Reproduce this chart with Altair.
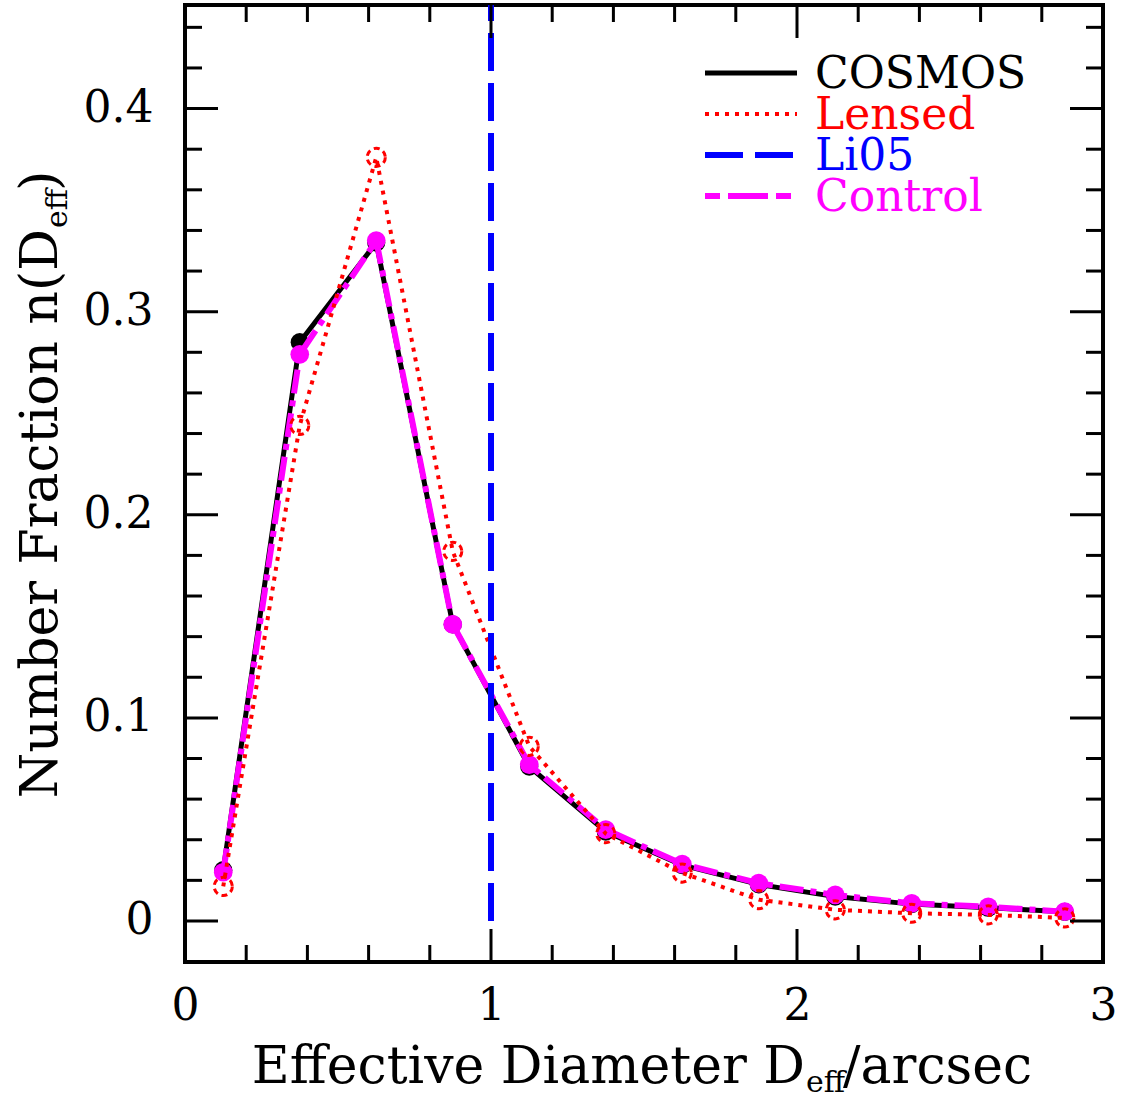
import altair as alt
import pandas as pd

# ---- data ----
x_centers = [0.125, 0.375, 0.625, 0.875, 1.125, 1.375, 1.625, 1.875, 2.125, 2.375, 2.625, 2.875]
cosmos = [0.025, 0.285, 0.334, 0.146, 0.076, 0.044, 0.0275, 0.018, 0.012, 0.0083, 0.0065, 0.0045]
control = [0.024, 0.279, 0.335, 0.146, 0.077, 0.045, 0.028, 0.0186, 0.0128, 0.0087, 0.007, 0.0046]
lensed = [0.017, 0.244, 0.376, 0.182, 0.086, 0.043, 0.0236, 0.0105, 0.0055, 0.0038, 0.003, 0.0015]
li05_x = [1.0]

x_major = [0, 1, 2, 3]
x_minor = [0.2, 0.4, 0.6, 0.8, 1.2, 1.4, 1.6, 1.8, 2.2, 2.4, 2.6, 2.8]
y_major = [0.0, 0.1, 0.2, 0.3, 0.4]
y_minor = [0.02, 0.04, 0.06, 0.08, 0.12, 0.14, 0.16, 0.18, 0.22, 0.24, 0.26, 0.28,
           0.32, 0.34, 0.36, 0.38, 0.42, 0.44]

legend_labels = ["COSMOS", "Lensed", "Li05", "Control"]
legend_colors = ["#000000", "#ff0000", "#0000ff", "#ff00ff"]

W, H = 918, 957
FONT = "DejaVu Serif"
FS = 44
TFS = 52
LFS = 44

xs = alt.Scale(domain=[0, 3], nice=False, zero=False)
ys = alt.Scale(domain=[-0.0202, 0.451], nice=False, zero=False)
XAX = alt.Axis(values=x_major, labelFont=FONT, labelFontSize=FS, labelColor="black",
               ticks=False, domain=False, grid=False, labelPadding=22, title="",
               labelFlush=False, labelOverlap=False, format="d")
YAX = alt.Axis(values=y_major, labelFont=FONT, labelFontSize=FS, labelColor="black",
               ticks=False, domain=False, grid=False, labelPadding=32, title="",
               labelFlush=False, labelOverlap=False,
               labelExpr="datum.value == 0 ? '0' : format(datum.value, '.1f')")

df = pd.DataFrame({"x": x_centers, "cosmos": cosmos, "control": control, "lensed": lensed})
base = alt.Chart(df)

def X(f):
    return alt.X(f, scale=xs, axis=XAX)

def Y(f):
    return alt.Y(f, scale=ys, axis=YAX)

cos_line = base.mark_line(color="black", strokeWidth=5).encode(x=X("x:Q"), y=Y("cosmos:Q"))
cos_pts = base.mark_point(filled=True, color="black", size=330, opacity=1).encode(
    x=X("x:Q"), y=Y("cosmos:Q"))
con_line = base.mark_line(color="#ff00ff", strokeWidth=6, strokeDash=[24, 7, 6, 7]).encode(
    x=X("x:Q"), y=Y("control:Q"))
con_pts = base.mark_point(filled=True, color="#ff00ff", size=350, opacity=1).encode(
    x=X("x:Q"), y=Y("control:Q"))
len_line = base.mark_line(color="#ff0000", strokeWidth=4, strokeDash=[4, 6]).encode(
    x=X("x:Q"), y=Y("lensed:Q"))
len_pts = base.mark_point(filled=False, color="#ff0000", size=330, strokeWidth=3,
                          strokeDash=[6, 4], opacity=1).encode(
    x=X("x:Q"), y=Y("lensed:Q"))

li_df = pd.DataFrame({"x": li05_x, "y0": [0.0], "y1": [0.451]})
li_rule = alt.Chart(li_df).mark_rule(color="#0000ff", strokeWidth=6, strokeDash=[38, 12]).encode(
    x=X("x:Q"), y=Y("y0:Q"), y2="y1:Q")

# ---- inward ticks on all four sides ----
def xticks(vals, length):
    c = alt.Chart(pd.DataFrame({"v": vals}))
    bot = c.mark_rule(color="black", strokeWidth=3).encode(
        x=X("v:Q"), y=alt.value(H), y2=alt.value(H - length))
    top = c.mark_rule(color="black", strokeWidth=3).encode(
        x=X("v:Q"), y=alt.value(0), y2=alt.value(length))
    return [bot, top]

def yticks(vals, length):
    c = alt.Chart(pd.DataFrame({"v": vals}))
    left = c.mark_rule(color="black", strokeWidth=3).encode(
        y=Y("v:Q"), x=alt.value(0), x2=alt.value(length))
    right = c.mark_rule(color="black", strokeWidth=3).encode(
        y=Y("v:Q"), x=alt.value(W), x2=alt.value(W - length))
    return [left, right]

ticks = xticks(x_major, 33) + xticks(x_minor, 17) + yticks(y_major, 33) + yticks(y_minor, 17)

# ---- legend ----
one = pd.DataFrame({"a": [0]})
leg_dashes = [None, [4, 6], [38, 12], [15, 8, 40, 8]]
leg_widths = [5, 4, 6, 6]
legend_layers = []
for i, (lab, col) in enumerate(zip(legend_labels, legend_colors)):
    yy = 68 + 41 * i
    kw = dict(color=col, strokeWidth=leg_widths[i])
    if leg_dashes[i] is not None:
        kw["strokeDash"] = leg_dashes[i]
    legend_layers.append(alt.Chart(one).mark_rule(**kw).encode(
        x=alt.value(520), x2=alt.value(612), y=alt.value(yy)))
    legend_layers.append(alt.Chart(one).mark_text(
        text=lab, font=FONT, fontSize=LFS, color=col, align="left", baseline="middle").encode(
        x=alt.value(630), y=alt.value(yy + 2)))

# ---- axis titles with subscripts ----
XT_Y = 1078
XD = 620
xt1 = alt.Chart(one).mark_text(text="Effective Diameter D", font=FONT, fontSize=TFS,
                               align="right", baseline="alphabetic", color="black").encode(
    x=alt.value(XD), y=alt.value(XT_Y))
xt2 = alt.Chart(one).mark_text(text="eff", font=FONT, fontSize=30,
                               align="left", baseline="alphabetic", color="black").encode(
    x=alt.value(XD + 1), y=alt.value(XT_Y + 9))
xt3 = alt.Chart(one).mark_text(text="/arcsec", font=FONT, fontSize=TFS,
                               align="left", baseline="alphabetic", color="black").encode(
    x=alt.value(XD + 38), y=alt.value(XT_Y))

YT_X = -128
YD = 224
yt1 = alt.Chart(one).mark_text(text="Number Fraction n(D", font=FONT, fontSize=TFS, angle=270,
                               align="right", baseline="alphabetic", color="black").encode(
    x=alt.value(YT_X), y=alt.value(YD))
yt2 = alt.Chart(one).mark_text(text="eff", font=FONT, fontSize=30, angle=270,
                               align="left", baseline="alphabetic", color="black").encode(
    x=alt.value(YT_X + 10), y=alt.value(YD - 1))
yt3 = alt.Chart(one).mark_text(text=")", font=FONT, fontSize=TFS, angle=270,
                               align="left", baseline="alphabetic", color="black").encode(
    x=alt.value(YT_X), y=alt.value(YD - 38))

chart = alt.layer(
    cos_line, cos_pts, con_line, con_pts, len_line, len_pts, li_rule,
    *ticks, *legend_layers, xt1, xt2, xt3, yt1, yt2, yt3
).properties(
    width=W, height=H,
    autosize=alt.AutoSizeParams(type="none"),
    padding={"left": 185, "top": 5, "right": 19, "bottom": 139},
    background="white",
).configure_view(
    stroke="black", strokeWidth=4
)

chart.save("out.html", embed_options={"renderer": "svg", "actions": False})
